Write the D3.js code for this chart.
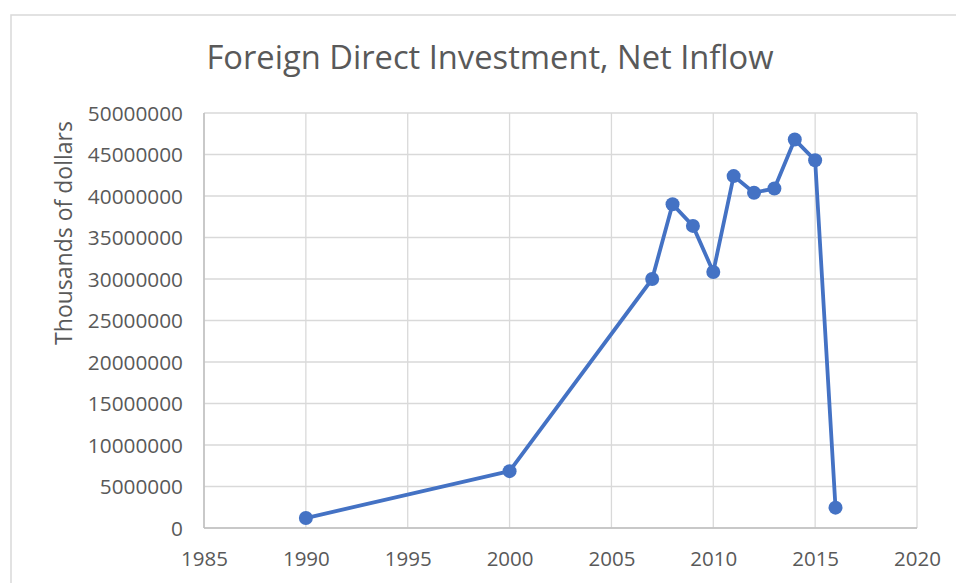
<!DOCTYPE html>
<html>
<head>
<meta charset="utf-8">
<script src="https://cdn.jsdelivr.net/npm/d3@7"></script>
<style>
  body { margin: 0; background: #fff; }
  text { font-family: "Open Sans", sans-serif; fill: #595959; }
  .grid line { stroke: #d9d9d9; stroke-width: 1.3; }
  .axis path, .axis line { display: none; }
</style>
</head>
<body>
<div id="chart"></div>
<script>
var years = [1990, 2000, 2007, 2008, 2009, 2010, 2011, 2012, 2013, 2014, 2015, 2016];
var inflow = [1200000, 6850000, 30000000, 39000000, 36400000, 30850000, 42400000, 40400000, 40900000, 46800000, 44300000, 2450000];
var xTicks = [1985, 1990, 1995, 2000, 2005, 2010, 2015, 2020];
var yTicks = [0, 5000000, 10000000, 15000000, 20000000, 25000000, 30000000, 35000000, 40000000, 45000000, 50000000];

function init() {
    var w = 956;
    var h = 583;

    var svg = d3.select("#chart")
        .append("svg")
        .attr("width", w)
        .attr("height", h);

    // chart area border
    svg.append("rect")
        .attr("x", 11)
        .attr("y", 15)
        .attr("width", 960)
        .attr("height", 600)
        .attr("fill", "#fff")
        .attr("stroke", "#d9d9d9")
        .attr("stroke-width", 1.5);

    var xScale = d3.scaleLinear().domain([1985, 2020]).range([204, 917]);
    var yScale = d3.scaleLinear().domain([0, 50000000]).range([528, 113]);

    // gridlines
    svg.append("g").attr("class", "grid")
        .selectAll("line").data(yTicks).join("line")
        .attr("x1", xScale(1985)).attr("x2", xScale(2020))
        .attr("y1", d => yScale(d)).attr("y2", d => yScale(d));

    svg.append("g").attr("class", "grid")
        .selectAll("line").data(xTicks).join("line")
        .attr("x1", d => xScale(d)).attr("x2", d => xScale(d))
        .attr("y1", yScale(0)).attr("y2", yScale(50000000));

    // axis lines
    svg.append("line")
        .attr("x1", xScale(1985)).attr("x2", xScale(2020))
        .attr("y1", yScale(0)).attr("y2", yScale(0))
        .attr("stroke", "#bfbfbf").attr("stroke-width", 1.5);
    svg.append("line")
        .attr("x1", xScale(1985)).attr("x2", xScale(1985))
        .attr("y1", yScale(0)).attr("y2", yScale(50000000))
        .attr("stroke", "#bfbfbf").attr("stroke-width", 1.5);

    // axes (labels only)
    var xAxis = d3.axisBottom(xScale).tickValues(xTicks).tickFormat(d3.format("d")).tickSize(0);
    var yAxis = d3.axisLeft(yScale).tickValues(yTicks).tickFormat(d3.format("d")).tickSize(0);

    svg.append("g")
        .attr("class", "axis")
        .attr("transform", "translate(0," + yScale(0) + ")")
        .call(xAxis)
        .call(g => g.selectAll("text")
            .attr("y", 38).attr("dy", 0)
            .style("font-size", "20.5px"));

    svg.append("g")
        .attr("class", "axis")
        .attr("transform", "translate(" + xScale(1985) + ",0)")
        .call(yAxis)
        .call(g => g.selectAll("text")
            .attr("x", -21).attr("dy", "0.35em")
            .style("font-size", "20.8px"));

    // line and markers
    var data = years.map((y, i) => ({ year: y, value: inflow[i] }));

    var line = d3.line()
        .x(d => xScale(d.year))
        .y(d => yScale(d.value));

    svg.append("path")
        .datum(data)
        .attr("fill", "none")
        .attr("stroke", "#4472c4")
        .attr("stroke-width", 3.8)
        .attr("stroke-linejoin", "round")
        .attr("d", line);

    svg.append("g")
        .selectAll("circle").data(data).join("circle")
        .attr("cx", d => xScale(d.year))
        .attr("cy", d => yScale(d.value))
        .attr("r", 7)
        .attr("fill", "#4472c4");

    // title
    svg.append("text")
        .attr("x", 490)
        .attr("y", 69)
        .attr("text-anchor", "middle")
        .style("font-size", "32.7px")
        .text("Foreign Direct Investment, Net Inflow");

    // y axis label
    svg.append("text")
        .attr("transform", "translate(72,233) rotate(-90)")
        .attr("text-anchor", "middle")
        .style("font-size", "23px")
        .text("Thousands of dollars");
}
window.onload = init;
</script>
</body>
</html>
